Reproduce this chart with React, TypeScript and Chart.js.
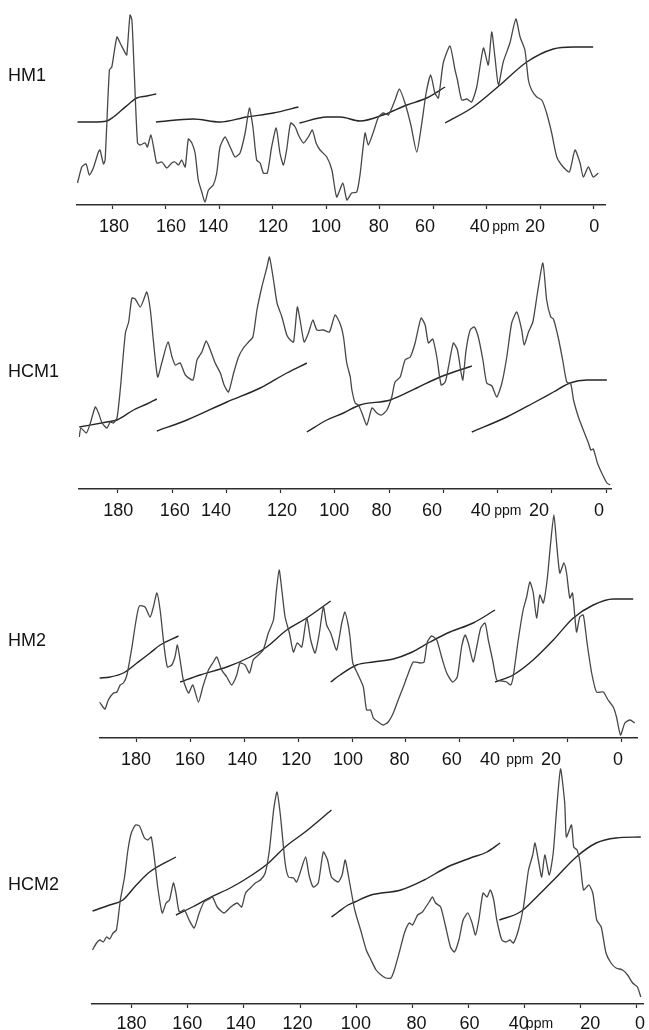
import React, { useEffect, useRef } from 'react';
import { Chart, registerables } from 'chart.js';

Chart.register(...registerables);

// ---------- axis data ----------
const TICK_VALUES = [180, 160, 140, 120, 100, 80, 60, 40, 20, 0];
const AXIS_LABELS = ['180', '160', '140', '120', '100', '80', '60', '40', 'ppm', '20', '0'];

// ppm positions where each axis label is centred
const HM1_LABEL_POS = [179.3, 158.0, 142.2, 119.9, 100.1, 80.4, 63.1, 42.7, 32.9, 22.0, -0.1];
const HCM1_LABEL_POS = [179.8, 159.0, 143.8, 119.5, 100.2, 82.8, 64.2, 46.2, 36.2, 24.7, 2.6];
const HM2_LABEL_POS = [180.0, 160.0, 140.7, 120.7, 101.5, 82.4, 63.0, 48.9, 37.8, 26.3, 1.4];
const HCM2_LABEL_POS = [180.0, 160.2, 141.1, 120.9, 100.1, 78.5, 59.6, 42.1, 34.7, 16.6, -1.1];

// ---------- spectra: [ppm, intensity (a.u.)] ----------
const HM1_SPECTRUM = [
  [192.9, 22], [191.3, 38], [189.7, 41], [188.5, 30], [187.0, 37], [185.1, 53], [184.5, 55], [183.2, 41], [182.6, 45],
  [181.0, 135], [180.1, 138], [178.2, 168], [177.0, 162], [175.1, 152], [174.5, 150], [173.3, 190], [172.6, 185],
  [171.8, 138], [170.5, 62], [169.5, 60], [167.7, 62], [166.8, 58], [165.5, 70], [164.3, 55], [163.3, 42], [161.4, 43],
  [159.6, 37], [157.7, 42], [156.5, 43], [155.2, 40], [154.0, 45], [152.7, 38], [151.5, 66], [150.2, 62], [149.0, 52],
  [147.8, 25], [146.5, 13], [145.3, 3], [144.0, 15], [142.2, 20], [140.9, 32], [139.7, 58], [137.8, 68], [135.9, 58],
  [134.1, 48], [132.2, 52], [130.3, 72], [128.7, 97], [127.4, 78], [126.0, 45], [124.7, 42], [123.5, 32], [122.0, 32],
  [120.4, 58], [118.7, 77], [117.3, 52], [116.0, 40], [114.8, 55], [113.3, 82], [111.6, 78], [110.4, 70], [108.5, 62],
  [106.7, 68], [105.2, 75], [103.8, 62], [102.3, 55], [99.8, 48], [97.9, 35], [96.1, 8], [93.8, 22], [92.3, 5],
  [90.5, 12], [88.6, 13], [87.4, 30], [85.5, 72], [84.3, 60], [82.4, 73], [80.5, 88], [78.7, 92], [76.8, 90],
  [74.3, 105], [72.7, 116], [70.6, 102], [68.4, 80], [66.2, 53], [64.3, 82], [62.7, 112], [61.0, 130], [59.4, 112],
  [58.1, 107], [56.3, 142], [53.8, 159], [51.9, 135], [51.0, 125], [49.4, 105], [47.5, 106], [45.7, 103], [43.8, 118],
  [41.3, 157], [39.5, 140], [38.2, 173], [37.0, 148], [35.7, 120], [33.9, 143], [31.4, 162], [29.2, 186], [27.6, 168],
  [25.8, 155], [24.5, 125], [23.3, 115], [21.4, 108], [19.5, 105], [17.7, 92], [15.8, 72], [13.9, 48], [11.5, 38],
  [9.2, 33], [7.1, 55], [5.2, 42], [4.0, 28], [2.1, 38], [0.3, 28], [-1.6, 32],
];

const HCM1_SPECTRUM = [
  [194.2, 52], [193.6, 61], [191.6, 56], [190.1, 66], [188.3, 82], [187.1, 76], [185.8, 66], [184.0, 61], [182.8, 67],
  [181.6, 66], [180.3, 71], [179.1, 99], [177.2, 156], [176.0, 167], [174.8, 191], [173.6, 190], [171.7, 182],
  [170.5, 189], [169.3, 197], [168.0, 179], [166.8, 146], [165.3, 112], [163.7, 127], [161.5, 147], [160.0, 132],
  [158.8, 124], [157.0, 126], [155.1, 114], [152.3, 109], [150.8, 129], [149.0, 137], [147.4, 148], [145.9, 139],
  [144.1, 126], [142.2, 116], [140.8, 104], [139.2, 97], [137.3, 116], [135.5, 132], [133.7, 141], [131.8, 147],
  [130.2, 152], [128.7, 179], [126.9, 202], [125.0, 222], [124.1, 232], [122.6, 209], [121.3, 186], [119.5, 172],
  [117.7, 154], [116.4, 149], [115.2, 147], [113.8, 182], [112.8, 169], [111.3, 147], [109.7, 156], [108.1, 169],
  [106.6, 159], [104.2, 159], [102.0, 157], [99.9, 174], [98.0, 165], [96.8, 152], [95.6, 126], [94.3, 112],
  [93.7, 99], [92.5, 86], [91.3, 84], [90.0, 76], [88.2, 64], [86.3, 81], [84.5, 76], [82.7, 74], [80.8, 79],
  [79.0, 92], [77.8, 107], [75.9, 112], [74.1, 129], [72.2, 132], [70.4, 146], [68.2, 171], [66.7, 164], [65.5, 146],
  [63.9, 150], [62.4, 132], [60.8, 104], [59.3, 107], [58.1, 122], [56.3, 146], [54.8, 139], [53.5, 117], [52.8, 109],
  [51.6, 139], [50.1, 159], [48.6, 162], [47.1, 152], [45.4, 129], [44.0, 106], [42.1, 103], [40.3, 92], [38.4, 106],
  [36.6, 132], [34.8, 166], [32.9, 177], [31.1, 159], [30.2, 144], [28.6, 157], [27.0, 167], [25.3, 196], [23.3, 226],
  [21.9, 189], [20.4, 172], [19.4, 170], [17.6, 151], [16.0, 129], [14.5, 107], [13.0, 105], [12.0, 89], [10.2, 72],
  [8.4, 59], [6.5, 46], [5.6, 39], [4.7, 40], [3.2, 26], [1.6, 16], [-0.3, 6], [-1.5, 4],
];

const HM2_SPECTRUM = [
  [193.6, 36], [192.3, 31], [191.5, 29], [190.3, 38], [188.4, 45], [187.1, 46], [185.9, 53], [184.7, 55], [183.4, 63],
  [181.6, 90], [180.0, 118], [178.8, 132], [176.7, 131], [174.8, 121], [173.6, 131], [172.3, 145], [171.1, 128],
  [169.6, 91], [168.4, 71], [166.8, 73], [165.6, 81], [164.7, 93], [163.7, 78], [162.5, 58], [160.6, 45], [159.0, 53],
  [156.9, 36], [155.3, 51], [153.2, 68], [151.6, 75], [150.1, 81], [148.3, 68], [146.4, 61], [144.6, 53], [142.7, 63],
  [141.5, 75], [139.6, 73], [138.0, 65], [136.6, 78], [134.7, 83], [132.9, 88], [131.0, 105], [129.1, 118],
  [128.1, 145], [127.0, 168], [126.0, 148], [124.8, 121], [123.2, 105], [121.7, 86], [120.3, 95], [118.6, 91],
  [116.8, 120], [115.3, 98], [113.7, 85], [112.1, 105], [110.6, 131], [109.4, 113], [107.9, 105], [105.7, 88],
  [103.8, 115], [102.6, 126], [101.4, 113], [100.7, 100], [99.7, 75], [97.7, 63], [95.8, 51], [94.6, 28], [93.1, 28],
  [92.1, 20], [90.3, 16], [88.4, 13], [86.6, 16], [84.7, 25], [82.9, 38], [81.0, 51], [79.1, 65], [77.3, 76],
  [74.8, 75], [73.3, 76], [72.1, 96], [70.5, 102], [68.6, 98], [66.8, 81], [64.9, 65], [62.7, 56], [61.0, 61],
  [59.4, 91], [58.1, 103], [56.9, 95], [55.1, 76], [53.8, 91], [52.3, 110], [50.7, 115], [49.5, 98], [47.9, 78],
  [46.4, 58], [44.6, 57], [42.7, 56], [41.2, 53], [40.3, 61], [38.4, 98], [36.6, 128], [35.3, 141], [34.1, 156],
  [32.9, 146], [31.6, 120], [30.4, 143], [29.1, 135], [27.7, 158], [26.4, 195], [25.2, 223], [24.2, 195], [23.0, 165],
  [21.5, 175], [20.5, 165], [19.3, 140], [18.3, 145], [16.8, 106], [15.6, 121], [14.3, 123], [12.9, 95], [11.2, 65],
  [9.4, 46], [6.9, 46], [5.1, 38], [3.2, 31], [2.0, 21], [0.5, 3], [-1.1, 15], [-3.0, 18], [-4.8, 15],
];

const HCM2_SPECTRUM = [
  [193.9, 54], [192.5, 61], [191.3, 64], [190.1, 62], [188.9, 67], [187.8, 65], [186.6, 71], [185.4, 74], [184.0, 104],
  [182.5, 127], [181.3, 154], [180.1, 171], [178.6, 179], [177.2, 178], [175.4, 166], [174.2, 164], [173.0, 167],
  [171.8, 144], [170.7, 117], [169.1, 91], [167.7, 101], [166.5, 104], [165.1, 121], [164.2, 111], [163.0, 92],
  [161.2, 94], [159.5, 84], [157.7, 76], [155.9, 91], [154.2, 102], [152.4, 105], [151.2, 107], [149.5, 97],
  [147.1, 91], [144.7, 97], [142.4, 101], [140.8, 97], [139.4, 111], [137.7, 116], [135.9, 121], [134.1, 124],
  [132.4, 131], [130.9, 154], [129.4, 194], [128.2, 212], [127.0, 189], [125.3, 141], [124.1, 127], [122.3, 126],
  [121.2, 122], [120.0, 131], [118.0, 147], [116.8, 129], [115.3, 117], [113.5, 121], [111.7, 152], [110.2, 144],
  [108.8, 127], [106.4, 122], [105.0, 129], [103.9, 144], [102.3, 121], [100.5, 94], [98.2, 72], [96.4, 54],
  [94.7, 44], [92.9, 34], [91.1, 29], [89.4, 26], [87.6, 26], [86.4, 34], [84.6, 52], [82.8, 71], [81.1, 81],
  [79.9, 79], [78.1, 89], [76.4, 92], [75.2, 97], [74.0, 102], [72.8, 107], [71.7, 101], [69.9, 97], [68.1, 77],
  [66.4, 57], [65.0, 52], [63.4, 64], [61.9, 84], [60.2, 91], [58.7, 81], [57.5, 69], [56.3, 84], [54.8, 111],
  [53.4, 107], [52.2, 114], [51.0, 104], [49.9, 84], [48.1, 64], [46.6, 62], [45.2, 64], [44.0, 61], [42.2, 74],
  [40.4, 97], [38.6, 134], [37.1, 149], [36.3, 161], [35.1, 144], [33.9, 127], [32.8, 149], [31.2, 129], [29.8, 151],
  [28.6, 194], [27.2, 235], [25.7, 201], [25.1, 167], [23.3, 179], [22.5, 157], [21.3, 154], [20.2, 141], [19.0, 114],
  [17.1, 119], [15.7, 111], [14.3, 84], [12.7, 77], [11.0, 51], [9.2, 41], [7.4, 36], [5.1, 34], [3.3, 29],
  [1.5, 21], [-0.2, 17], [-1.4, 7],
];

// ---------- integral curves (one list per segment) ----------
const HM1_INTEGRALS = [
  [[192.9, 83], [187.0, 83], [182.0, 84], [179.5, 88], [176.4, 95], [173.3, 102], [170.8, 107], [167.0, 109], [163.5, 111]],
  [[163.6, 83], [149.7, 86], [139.7, 83], [129.7, 88], [119.8, 92], [110.4, 98]],
  [[110.0, 82], [99.8, 88], [94.8, 88], [87.4, 84], [78.8, 90], [69.9, 100], [62.5, 107], [55.6, 118]],
  [[55.6, 82], [45.1, 98], [35.1, 120], [25.1, 143], [15.2, 156], [7.7, 158], [0.3, 158]],
];

const HCM1_INTEGRALS = [
  [[194.2, 62], [184.0, 67], [180.3, 69], [174.2, 79], [169.3, 85], [165.6, 90]],
  [[165.6, 58], [154.5, 69], [139.8, 87], [127.5, 101], [117.7, 116], [110.3, 126]],
  [[110.3, 57], [102.9, 69], [96.8, 76], [90.7, 84], [79.6, 89], [69.8, 101], [61.2, 112], [49.5, 123]],
  [[49.5, 57], [36.6, 72], [26.8, 86], [19.4, 97], [13.3, 106], [7.1, 109], [-0.3, 109]],
];

const HM2_INTEGRALS = [
  [[193.6, 60], [189.6, 61], [184.7, 65], [179.7, 75], [174.8, 85], [171.1, 93], [164.3, 102]],
  [[163.7, 56], [156.3, 63], [146.4, 71], [137.8, 81], [131.6, 91], [124.2, 108], [116.8, 120], [107.9, 137]],
  [[107.9, 56], [104.4, 63], [98.3, 73], [92.1, 76], [84.7, 79], [78.5, 85], [71.1, 96], [63.7, 106], [55.1, 115], [47.0, 128]],
  [[47.0, 56], [40.3, 63], [32.9, 78], [25.4, 98], [18.0, 120], [10.6, 133], [3.2, 139], [-4.2, 139]],
];

const HCM2_INTEGRALS = [
  [[193.9, 93], [187.8, 99], [183.1, 104], [178.3, 119], [173.6, 132], [164.2, 147]],
  [[164.2, 89], [158.3, 97], [152.4, 106], [144.2, 117], [137.1, 129], [131.2, 141], [125.3, 157], [118.2, 172], [108.8, 194]],
  [[108.8, 87], [106.4, 92], [102.9, 99], [100.5, 102], [94.7, 109], [84.1, 114], [75.8, 124], [67.5, 137], [59.3, 146], [53.4, 152], [48.7, 161]],
  [[49.0, 84], [41.6, 92], [35.7, 107], [28.6, 127], [21.6, 147], [14.5, 161], [7.4, 166], [-1.4, 167]],
];

// ---------- layout (positions / styles) ----------
const FONT = "'Liberation Sans', Arial, Helvetica, sans-serif";
const SPEC_COLOR = '#474747';
const INT_COLOR = '#262626';
const AXIS_COLOR = '#2e2e2e';
const TEXT_COLOR = '#141414';

const PANELS = [
  { name: 'HM1', nameY: 75, top: 0, yMax: 205, labelPad: 6, xMin: -4.3, xMax: 193.1, padLeft: 77, padRight: 43.5, spectrum: HM1_SPECTRUM, integrals: HM1_INTEGRALS, labelPos: HM1_LABEL_POS },
  { name: 'HCM1', nameY: 371, top: 245, yMax: 244, labelPad: 6, xMin: -2.0, xMax: 194.3, padLeft: 79, padRight: 37.5, spectrum: HCM1_SPECTRUM, integrals: HCM1_INTEGRALS, labelPos: HCM1_LABEL_POS },
  { name: 'HM2', nameY: 640, top: 500, yMax: 238, labelPad: 6, xMin: -5.6, xMax: 193.6, padLeft: 99.4, padRight: 12, spectrum: HM2_SPECTRUM, integrals: HM2_INTEGRALS, labelPos: HM2_LABEL_POS },
  { name: 'HCM2', nameY: 884, top: 760, yMax: 244, labelPad: 4, xMin: -2.5, xMax: 194.1, padLeft: 92, padRight: 1, spectrum: HCM2_SPECTRUM, integrals: HCM2_INTEGRALS, labelPos: HCM2_LABEL_POS },
];

const AXIS_BAND = 34;

function SpectrumPanel({ cfg }: { cfg: any }) {
  const ref = useRef<HTMLCanvasElement | null>(null);

  useEffect(() => {
    const canvas = ref.current;
    if (!canvas) return;
    const datasets: any[] = [
      {
        data: cfg.spectrum,
        borderColor: SPEC_COLOR,
        borderWidth: 1.3,
        pointRadius: 0,
        tension: 0.2,
        fill: false,
      },
      ...cfg.integrals.map((seg: number[][]) => ({
        data: seg,
        borderColor: INT_COLOR,
        borderWidth: 1.4,
        pointRadius: 0,
        cubicInterpolationMode: 'monotone',
        fill: false,
      })),
    ];

    const chart = new Chart(canvas, {
      type: 'line',
      data: { datasets },
      options: {
        animation: false,
        responsive: false,
        events: [],
        layout: { padding: { left: cfg.padLeft, right: cfg.padRight, top: 0, bottom: 0 } },
        plugins: { legend: { display: false }, tooltip: { enabled: false }, title: { display: false } },
        scales: {
          x: {
            type: 'linear',
            reverse: true,
            min: cfg.xMin,
            max: cfg.xMax,
            position: 'bottom',
            weight: 0,
            grid: { display: true, drawOnChartArea: false, drawTicks: true, tickLength: 4, tickColor: AXIS_COLOR, tickWidth: 1.2 },
            border: { display: true, color: AXIS_COLOR, width: 1.6 },
            ticks: { display: false },
            afterBuildTicks: (s: any) => {
              s.ticks = TICK_VALUES.map((v) => ({ value: v }));
            },
            afterFit: (s: any) => {
              s.height = 5;
            },
          },
          xl: {
            type: 'linear',
            reverse: true,
            min: cfg.xMin,
            max: cfg.xMax,
            position: 'bottom',
            weight: 1,
            grid: { display: false, drawTicks: false, drawOnChartArea: false },
            border: { display: false },
            ticks: {
              autoSkip: false,
              maxRotation: 0,
              minRotation: 0,
              padding: cfg.labelPad,
              color: TEXT_COLOR,
              font: (ctx: any) =>
                AXIS_LABELS[ctx.index] === 'ppm'
                  ? { family: FONT, size: 14, lineHeight: 1.65 }
                  : { family: FONT, size: 18, lineHeight: 1.2 },
              callback: (_v: any, i: number) => AXIS_LABELS[i],
            },
            afterBuildTicks: (s: any) => {
              s.ticks = cfg.labelPos.map((v: number) => ({ value: v }));
            },
            afterFit: (s: any) => {
              s.height = AXIS_BAND - 5;
            },
          },
          y: { display: false, min: 0, max: cfg.yMax },
        },
      } as any,
    });
    return () => chart.destroy();
  }, [cfg]);

  const h = cfg.yMax + AXIS_BAND;
  return (
    <canvas
      ref={ref}
      width={649}
      height={h}
      style={{ position: 'absolute', left: 0, top: cfg.top, width: 649, height: h }}
    />
  );
}

export default function App() {
  return (
    <div
      style={{
        position: 'absolute',
        left: 0,
        top: 0,
        width: 649,
        height: 1030,
        overflow: 'hidden',
        background: '#ffffff',
      }}
    >
      {PANELS.map((p) => (
        <React.Fragment key={p.name}>
          <SpectrumPanel cfg={p} />
          <div
            style={{
              position: 'absolute',
              left: 8,
              top: p.nameY - 9,
              fontFamily: FONT,
              fontSize: 18,
              lineHeight: '18px',
              color: TEXT_COLOR,
              whiteSpace: 'nowrap',
            }}
          >
            {p.name}
          </div>
        </React.Fragment>
      ))}
    </div>
  );
}
